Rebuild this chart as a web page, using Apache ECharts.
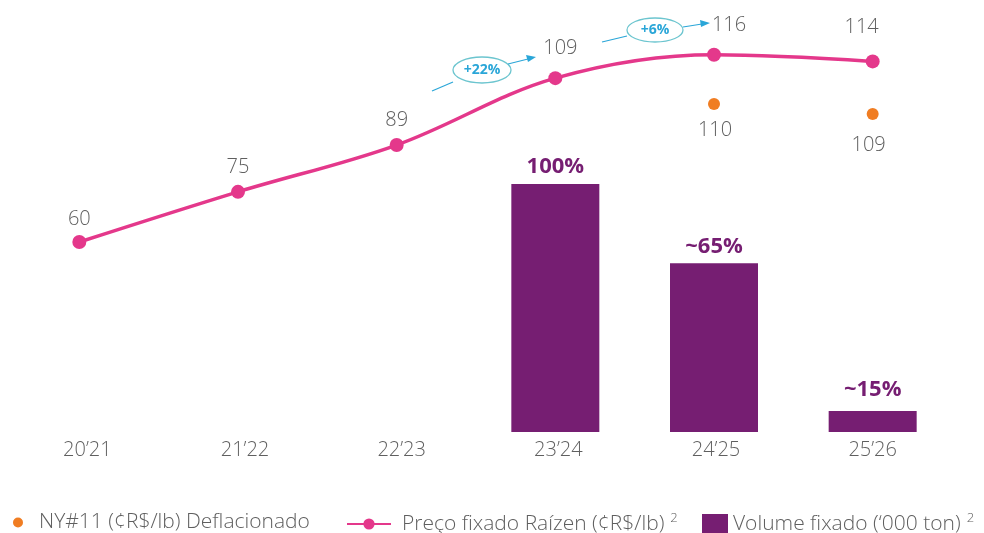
<!DOCTYPE html>
<html>
<head>
<meta charset="utf-8">
<script src="https://cdn.jsdelivr.net/npm/echarts@6/dist/echarts.min.js"></script>
<style>
  html, body { margin: 0; padding: 0; background: #fff; }
  #main { width: 984px; height: 533px; }
</style>
</head>
<body>
<div id="main"></div>
<script>
// safras
var safras = ['20’21', '21’22', '22’23', '23’24', '24’25', '25’26'];
// Preço fixado Raízen (¢R$/lb)
var precoFixado = [60, 75, 89, 109, 116, 114];
// NY#11 deflacionado
var ny11 = [null, null, null, null, 110, 109];
var volumeFixado = [null, null, null, 100, 68, 8.5];
var volumeLabels = ['', '', '', '100%', '~65%', '~15%'];

var nomeNY = 'NY#11 (¢R$/lb) Deflacionado';
var nomePreco = 'Preço fixado Raízen (¢R$/lb)';
var nomeVolume = 'Volume fixado (‘000 ton)';

var fonte = '"Open Sans", sans-serif';
var cinza = '#5f5f5f';
var azul = '#2aa6d8';

// deslocamentos dos rótulos, como na figura
var eixoShift = [8, 7, 5, 3, 2, 0];
var precoLabelOff = [[0, 3], [0, 1], [0, 1], [5, -4], [15, -3], [-11, -8]];
var nyLabelOff = [[0, 0], [0, 0], [0, 0], [0, 0], [1, -1], [-4, 4]];
var volLabelOff = [[0, 0], [0, 0], [0, 0], [0, 0], [0, 0], [0, -4]];

var chart = echarts.init(document.getElementById('main'));

function legenda(nome, left, icon, w, h, pad, sup) {
	return {
		data: [nome],
		left: left,
		top: 507,
		icon: icon,
		itemWidth: w,
		itemHeight: h,
		formatter: function (n) { return sup ? n + '{s|2}' : n; },
		textStyle: {
			fontFamily: fonte,
			fontSize: 21,
			fontWeight: 300,
			color: cinza,
			padding: [0, 0, 0, pad],
			rich: { s: { fontSize: 13, color: cinza, fontFamily: fonte, fontWeight: 300, padding: [0, 0, 11, 6] } }
		}
	};
}

var richEixo = {};
eixoShift.forEach(function (s, i) {
	richEixo['s' + i] = { fontFamily: fonte, fontSize: 20, fontWeight: 300, color: cinza, padding: [0, 0, 0, 2 * s] };
});

var option = {
	animation: false,
	grid: { left: 0, right: 32, top: 40, bottom: 101 },
	legend: [
		legenda(nomeNY, 8, 'circle', 26, 10, 3, false),
		legenda(nomePreco, 341, undefined, 44, 14, 6, true),
		legenda(nomeVolume, 697, 'rect', 26, 20, 0, true)
	],
	xAxis: {
		type: 'category',
		data: safras,
		axisLine: { show: false },
		axisTick: { show: false },
		axisLabel: {
			margin: 8,
			formatter: function (v, i) { return '{s' + i + '|' + v + '}'; },
			rich: richEixo
		}
	},
	yAxis: [
		{ type: 'value', min: 0, max: 158, show: false },
		{ type: 'value', min: 3.2, max: 120.4, show: false },
		{ type: 'value', min: 77.2, max: 116.4, show: false }
	],
	series: [
		{
			name: nomeNY,
			type: 'scatter',
			yAxisIndex: 2,
			data: ny11.map(function (v, i) {
				return { value: v, label: { offset: nyLabelOff[i] } };
			}),
			symbolSize: 12,
			itemStyle: { color: '#f07d22', opacity: 1 },
			label: {
				show: true, position: 'bottom', distance: 11,
				fontFamily: fonte, fontSize: 20, fontWeight: 300, color: cinza
			},
			z: 3
		},
		{
			name: nomePreco,
			type: 'line',
			yAxisIndex: 1,
			data: precoFixado.map(function (v, i) {
				return { value: v, label: { offset: precoLabelOff[i] } };
			}),
			smooth: 0.35,
			symbol: 'circle',
			symbolSize: 14,
			lineStyle: { width: 3.5, color: '#e4388b' },
			itemStyle: { color: '#e4388b' },
			label: {
				show: true, position: 'top', distance: 9,
				fontFamily: fonte, fontSize: 20, fontWeight: 300, color: cinza
			},
			z: 4
		},
		{
			name: nomeVolume,
			type: 'bar',
			yAxisIndex: 0,
			data: volumeFixado.map(function (v, i) {
				return { value: v, label: { offset: volLabelOff[i] } };
			}),
			barWidth: 88,
			itemStyle: { color: '#761e72' },
			label: {
				show: true, position: 'top', distance: 6,
				fontFamily: fonte, fontSize: 22, fontWeight: 'bold', color: '#761e72',
				formatter: function (p) { return volumeLabels[p.dataIndex]; }
			}
		}
	],
	graphic: [
		// +22%
		{ type: 'polyline', shape: { points: [[432, 91], [453, 82]] }, style: { stroke: azul, lineWidth: 1.2, fill: null } },
		{ type: 'ellipse', shape: { cx: 482, cy: 70, rx: 29, ry: 13 }, style: { stroke: '#6cc5cf', lineWidth: 1.3, fill: '#fff' } },
		{ type: 'text', x: 482, y: 70, style: { text: '+22%', fill: azul, font: 'bold 14px "Open Sans", sans-serif', align: 'center', verticalAlign: 'middle' } },
		{ type: 'polyline', shape: { points: [[508, 64], [528, 59]] }, style: { stroke: azul, lineWidth: 1.2, fill: null } },
		{ type: 'polygon', shape: { points: [[536, 57], [526, 55], [528, 62]] }, style: { fill: azul } },
		// +6%
		{ type: 'polyline', shape: { points: [[602, 42], [627, 36]] }, style: { stroke: azul, lineWidth: 1.2, fill: null } },
		{ type: 'ellipse', shape: { cx: 655, cy: 30, rx: 28, ry: 12 }, style: { stroke: '#6cc5cf', lineWidth: 1.3, fill: '#fff' } },
		{ type: 'text', x: 655, y: 30, style: { text: '+6%', fill: azul, font: 'bold 14px "Open Sans", sans-serif', align: 'center', verticalAlign: 'middle' } },
		{ type: 'polyline', shape: { points: [[683, 27], [702, 24]] }, style: { stroke: azul, lineWidth: 1.2, fill: null } },
		{ type: 'polygon', shape: { points: [[710, 23], [700, 20], [701, 27]] }, style: { fill: azul } }
	]
};

chart.setOption(option);
</script>
</body>
</html>
